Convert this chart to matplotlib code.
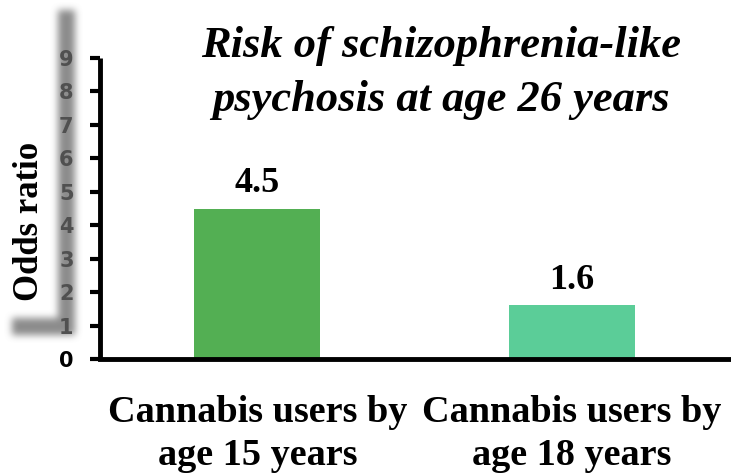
import numpy as np
import matplotlib
matplotlib.use("Agg")
from matplotlib import pyplot as plt

# data
groups = ["Cannabis users by\nage 15 years", "Cannabis users by\nage 18 years"]
odds_ratio = [4.5, 1.6]
value_labels = ["4.5", "1.6"]
bar_colors = ["#53AF53", "#5BCD98"]
y_ticks = [0, 1, 2, 3, 4, 5, 6, 7, 8, 9]

W, H = 731, 475
fig = plt.figure(figsize=(W / 100, H / 100), dpi=100)
ax = fig.add_axes([100 / W, 1 - 359 / H, 629 / W, 301 / H])
ax.patch.set_alpha(0)

# soft gray shadow left of the axis (scan artefact in the original)
mask = np.zeros((H, W))
mask[10:335, 58:75] = 1.0
mask[318:335, 12:75] = 1.0
for _ in range(3):
    k = 7
    c = np.cumsum(np.pad(mask, ((0, 0), (k // 2 + 1, k // 2))), axis=1)
    mask = (c[:, k:] - c[:, :-k]) / k
    c = np.cumsum(np.pad(mask, ((k // 2 + 1, k // 2), (0, 0))), axis=0)
    mask = (c[k:, :] - c[:-k, :]) / k
shadow = np.zeros((H, W, 4))
shadow[..., :3] = 0.5
shadow[..., 3] = mask * 0.9
fig.figimage(shadow, xo=0, yo=0, origin="upper", zorder=-1)

x = np.arange(len(groups))
bars = ax.bar(x, odds_ratio, width=0.40, color=bar_colors, zorder=2)

for xi, v, lab in zip(x, odds_ratio, value_labels):
    ax.annotate(lab, (xi, v), xytext=(0, 12), textcoords="offset points",
                ha="center", va="baseline", fontsize=26, fontweight="bold",
                family="Liberation Serif")

ax.set_xlim(-0.5, 1.5)
ax.set_ylim(0, 9)
ax.set_yticks(y_ticks)
ax.set_yticklabels([str(t) for t in y_ticks], fontsize=15, fontweight="bold",
                   family="DejaVu Sans")
for i, t in enumerate(ax.get_yticklabels()):
    t.set_color("black" if i == 0 else "#505050")
ax.set_xticks(x)
ax.set_xticklabels(groups, fontsize=27.5, fontweight="bold",
                   family="Liberation Serif", linespacing=1.3)

for s in ["top", "right"]:
    ax.spines[s].set_visible(False)
ax.spines["left"].set_linewidth(3.5)
ax.spines["bottom"].set_linewidth(3.5)
ax.spines["left"].set_capstyle("butt")
ax.tick_params(axis="y", length=7, width=3, pad=12, direction="out")
ax.tick_params(axis="x", length=0, pad=26)

fig.text(30 / W, 1 - 221 / H, "Odds ratio", rotation=90, ha="center",
         va="center", fontsize=25, fontweight="bold", family="Liberation Serif")

fig.text(441 / W, 1 - 26 / H, "Risk of schizophrenia-like\npsychosis at age 26 years",
         ha="center", va="top", fontsize=32, fontweight="bold", style="italic",
         family="Liberation Serif", linespacing=1.45)

fig.savefig("out.png", dpi=100)
